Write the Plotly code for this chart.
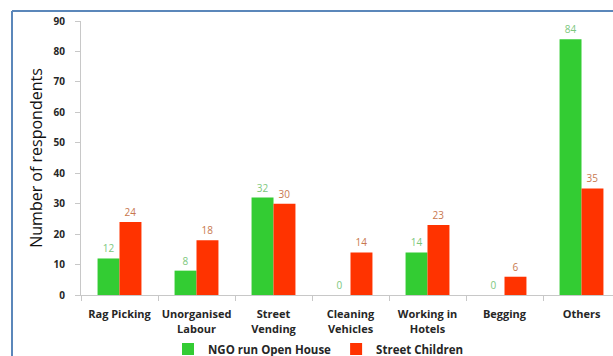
import plotly.graph_objects as go

categories = ["Rag Picking", "Unorganised<br>Labour", "Street<br>Vending", "Cleaning<br>Vehicles",
              "Working in<br>Hotels", "Begging", "Others"]
ngo_values = [12, 8, 32, 0, 14, 0, 84]
street_values = [24, 18, 30, 14, 23, 6, 35]
y_ticks = [0, 10, 20, 30, 40, 50, 60, 70, 80, 90]

GREEN = "#33CC33"
RED = "#FF3300"

fig = go.Figure()
fig.add_trace(go.Bar(
    x=categories, y=ngo_values, name="NGO run Open House",
    marker=dict(color=GREEN, line=dict(width=0)),
    text=[str(v) for v in ngo_values], textposition="outside",
    textfont=dict(family="Open Sans", size=10, color="#7CC77C"),
    cliponaxis=False,
))
fig.add_trace(go.Bar(
    x=categories, y=street_values, name="Street Children",
    marker=dict(color=RED, line=dict(width=0)),
    text=[str(v) for v in street_values], textposition="outside",
    textfont=dict(family="Open Sans", size=10, color="#C8784E"),
    cliponaxis=False,
))

L, T, B, W, H = 81, 21, 61, 613, 356
pw = W - L
ph = H - T - B

def px(x):
    return (x - L) / pw

def py(y):
    return (H - B - y) / ph

fig.update_layout(
    width=W, height=H,
    margin=dict(l=L, r=0, t=T, b=B, pad=0, autoexpand=False),
    paper_bgcolor="white", plot_bgcolor="white",
    barmode="group", bargap=0.43, bargroupgap=0,
    font=dict(family="Open Sans", color="#262626"),
    showlegend=True,
    legend=dict(orientation="h", x=px(318), xanchor="center", y=py(349), yanchor="middle",
                font=dict(family="Open Sans", size=11.5, weight="bold", color="#262626"),
                bgcolor="rgba(0,0,0,0)", itemwidth=30, tracegroupgap=0),
    xaxis=dict(
        range=[-0.5, -0.5 + pw / 77.0], automargin=False,
        showline=True, linecolor="#C8C8C8", linewidth=1,
        ticks="outside", tickson="boundaries", ticklen=5, tickcolor="#C8C8C8",
        tickangle=0, ticklabelstandoff=9,
        tickfont=dict(family="Open Sans", size=11, weight="bold", color="#262626"),
        showgrid=False, zeroline=False,
    ),
    yaxis=dict(
        range=[0, 90], tickvals=y_ticks, automargin=False,
        showline=True, linecolor="#C8C8C8", linewidth=1,
        ticks="outside", ticklen=5, tickcolor="#C8C8C8",
        ticklabelstandoff=8,
        tickfont=dict(family="Open Sans", size=10, weight="bold", color="#262626"),
        showgrid=False, zeroline=False,
        title=dict(text="Number of respondents", standoff=6,
                   font=dict(family="Open Sans", size=16, color="#111111")),
    ),
    shapes=[
        dict(type="line", xref="paper", yref="paper", x0=px(12), x1=px(12), y0=py(11), y1=py(360),
             line=dict(color="#5B87BA", width=2)),
        dict(type="line", xref="paper", yref="paper", x0=px(12), x1=px(620), y0=py(11), y1=py(11),
             line=dict(color="#5B87BA", width=2)),
    ],
)

fig.write_html("out.html")
